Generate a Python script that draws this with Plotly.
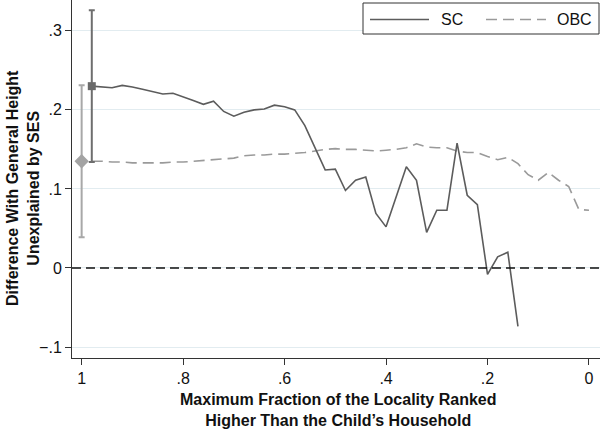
import plotly.graph_objects as go

# ---- data ----
sc_frac = [0.98, 0.96, 0.94, 0.92, 0.90, 0.88, 0.86, 0.84, 0.82, 0.80,
           0.78, 0.76, 0.74, 0.72, 0.70, 0.68, 0.66, 0.64, 0.62, 0.60,
           0.58, 0.56, 0.54, 0.52, 0.50, 0.48, 0.46, 0.44, 0.42, 0.40,
           0.38, 0.36, 0.34, 0.32, 0.30, 0.28, 0.26, 0.24, 0.22, 0.20,
           0.18, 0.16, 0.14]
sc_vals = [0.230, 0.229, 0.228, 0.231, 0.229, 0.226, 0.223, 0.220, 0.221, 0.216,
           0.212, 0.207, 0.211, 0.198, 0.192, 0.197, 0.200, 0.201, 0.206, 0.204,
           0.200, 0.180, 0.152, 0.124, 0.125, 0.098, 0.111, 0.115, 0.069, 0.052,
           0.090, 0.128, 0.111, 0.045, 0.073, 0.073, 0.158, 0.092, 0.080, -0.008,
           0.014, 0.020, -0.074]

obc_frac = [0.98, 0.96, 0.94, 0.92, 0.90, 0.88, 0.86, 0.84, 0.82, 0.80,
            0.78, 0.76, 0.74, 0.72, 0.70, 0.68, 0.66, 0.64, 0.62, 0.60,
            0.58, 0.56, 0.54, 0.52, 0.50, 0.48, 0.46, 0.44, 0.42, 0.40,
            0.38, 0.36, 0.34, 0.32, 0.30, 0.28, 0.26, 0.24, 0.22, 0.20,
            0.18, 0.16, 0.14, 0.12, 0.10, 0.08, 0.06, 0.04, 0.02, 0.00]
obc_vals = [0.135, 0.135, 0.134, 0.134, 0.133, 0.133, 0.133, 0.133, 0.134, 0.134,
            0.135, 0.136, 0.137, 0.138, 0.139, 0.142, 0.143, 0.143, 0.144, 0.144,
            0.145, 0.146, 0.148, 0.150, 0.151, 0.150, 0.150, 0.149, 0.148, 0.149,
            0.150, 0.152, 0.157, 0.153, 0.152, 0.152, 0.148, 0.146, 0.146, 0.141,
            0.137, 0.140, 0.132, 0.118, 0.111, 0.121, 0.111, 0.103, 0.074, 0.073]

# point estimates with confidence intervals
est_groups = ["SC", "OBC"]
est_x = [0.98, 1.00]
est_y = [0.230, 0.135]
est_ci = [0.096, 0.096]

x_ticks = [1, 0.8, 0.6, 0.4, 0.2, 0]
x_ticktext = ["1", ".8", ".6", ".4", ".2", "0"]
y_ticks = [-0.1, 0, 0.1, 0.2, 0.3]
y_ticktext = ["\u2212.1", "0", ".1", ".2", ".3"]

SC_COLOR = "#5c5c5c"
OBC_COLOR = "#9a9a9a"
FONT = "Liberation Sans, Arial, Helvetica, sans-serif"

W, H = 600, 430
L, R, T, B = 72, 0, 0, 72
PW, PH = W - L - R, H - T - B


def px(x):
    return (x - L) / PW


def py(y):
    return 1 - (y - T) / PH


fig = go.Figure()

fig.add_trace(go.Scatter(x=obc_frac, y=obc_vals, mode="lines",
                         line=dict(color=OBC_COLOR, width=1.6, dash="11px,6px"),
                         name="OBC", showlegend=False))
fig.add_trace(go.Scatter(x=sc_frac, y=sc_vals, mode="lines",
                         line=dict(color=SC_COLOR, width=1.6),
                         name="SC", showlegend=False))

# OBC estimate
fig.add_trace(go.Scatter(x=[est_x[1]], y=[est_y[1]], mode="markers",
                         marker=dict(symbol="diamond", size=11, color="#a3a3a3"),
                         error_y=dict(type="data", array=[est_ci[1]], visible=True,
                                      color="#a8a8a8", thickness=2, width=3),
                         showlegend=False))
# SC estimate
fig.add_trace(go.Scatter(x=[est_x[0]], y=[est_y[0]], mode="markers",
                         marker=dict(symbol="square", size=8, color="#6a6a6a"),
                         error_y=dict(type="data", array=[est_ci[0]], visible=True,
                                      color="#6e6e6e", thickness=2, width=3),
                         showlegend=False))

# zero reference line
fig.add_shape(type="line", xref="paper", x0=0, x1=1, yref="y", y0=0, y1=0,
              line=dict(color="#111", width=1.6, dash="9px,5px"))

# legend drawn manually
fig.add_shape(type="rect", xref="paper", yref="paper",
              x0=px(363), x1=px(599), y0=py(34), y1=py(3),
              line=dict(color="#333", width=1), fillcolor="white")
fig.add_shape(type="line", xref="paper", yref="paper",
              x0=px(370), x1=px(429), y0=py(19.5), y1=py(19.5),
              line=dict(color=SC_COLOR, width=1.6))
fig.add_shape(type="line", xref="paper", yref="paper",
              x0=px(486), x1=px(546), y0=py(19.5), y1=py(19.5),
              line=dict(color=OBC_COLOR, width=1.6, dash="11px,6px"))
fig.add_annotation(xref="paper", yref="paper", x=px(439), y=py(19.5),
                   xanchor="left", yanchor="middle", text="SC", showarrow=False,
                   font=dict(family=FONT, size=16, color="#111"))
fig.add_annotation(xref="paper", yref="paper", x=px(555), y=py(19.5),
                   xanchor="left", yanchor="middle", text="OBC", showarrow=False,
                   font=dict(family=FONT, size=16, color="#111"))

# axis titles
fig.add_annotation(xref="paper", yref="paper", x=px(23), y=py(188),
                   xanchor="center", yanchor="middle", textangle=-90,
                   text="<b>Difference With General Height<br>Unexplained by SES</b>",
                   showarrow=False, font=dict(family=FONT, size=16, color="#111"))
fig.add_annotation(xref="paper", yref="paper", x=px(338), y=py(410),
                   xanchor="center", yanchor="middle",
                   text="<b>Maximum Fraction of the Locality Ranked<br>Higher Than the Child\u2019s Household</b>",
                   showarrow=False, font=dict(family=FONT, size=16, color="#111"))

fig.update_layout(
    width=W, height=H,
    margin=dict(l=L, r=R, t=T, b=B, pad=0),
    paper_bgcolor="white", plot_bgcolor="white",
    showlegend=False,
    hovermode=False,
    font=dict(family=FONT, size=16, color="#111"),
    xaxis=dict(range=[1.019, -0.0217], tickvals=x_ticks, ticktext=x_ticktext,
               showgrid=False, zeroline=False, showline=True, linecolor="#333",
               linewidth=1, ticks="outside", ticklen=6, tickcolor="#333",
               tickfont=dict(family=FONT, size=16, color="#111")),
    yaxis=dict(range=[-0.1139, 0.339], tickvals=y_ticks, ticktext=y_ticktext,
               showgrid=True, gridcolor="#e2ecf0", gridwidth=1, zeroline=False,
               showline=True, linecolor="#333", linewidth=1, ticks="outside",
               ticklen=6, tickcolor="#333",
               tickfont=dict(family=FONT, size=16, color="#111")),
)

fig.write_html("out.html",
               config={"displayModeBar": False, "staticPlot": True},
               post_script="document.body.style.margin='0';document.body.style.padding='0';document.body.style.overflow='hidden';")
